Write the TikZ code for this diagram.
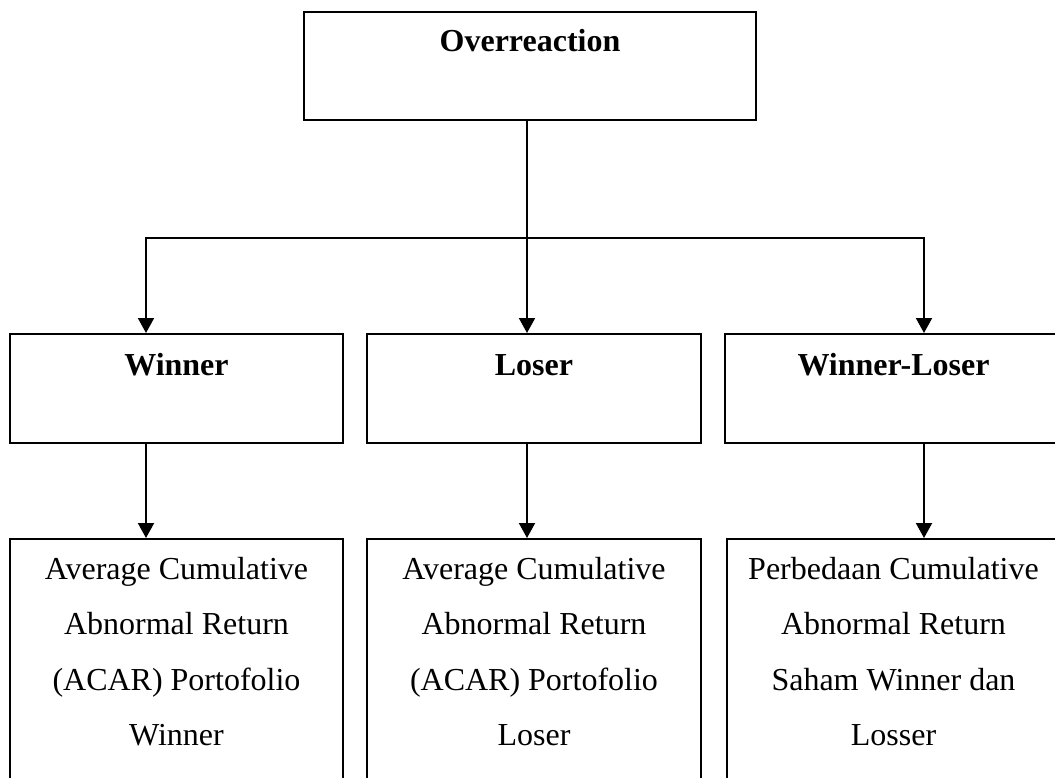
\documentclass[tikz,border=0pt]{standalone}
\usepackage{fontspec}
\setmainfont{Liberation Serif}
\usetikzlibrary{arrows.meta,positioning}

\begin{document}
\begin{tikzpicture}[x=1pt, y=-1pt, line width=2pt,
    box/.style={draw, rectangle, inner sep=0pt},
    title/.style={font=\fontsize{32}{38}\selectfont\bfseries, inner sep=0pt},
    body/.style={font=\fontsize{32}{55.5}\selectfont, align=center, inner sep=0pt},
    arr/.style={-{Triangle[width=16pt,length=15pt]}}]
      \useasboundingbox (0,0) rectangle (1055,778);
      \clip (0,0) rectangle (1055,778);

      % boxes
      \node[box, minimum width=452pt, minimum height=108pt] (over) at (530,66) {};
      \node[box, minimum width=333pt, minimum height=109pt] (win) at (176.5,388.5) {};
      \node[box, minimum width=334pt, minimum height=109pt] (los) at (534,388.5) {};
      \node[box, minimum width=337pt, minimum height=109pt] (wl) at (893.5,388.5) {};
      \node[box, minimum width=333pt, minimum height=281pt] (acwin) at (176.5,679.5) {};
      \node[box, minimum width=334pt, minimum height=281pt] (aclos) at (534,679.5) {};
      \node[box, minimum width=333pt, minimum height=281pt] (acwl) at (893.5,679.5) {};

      % texts
      \node[title, anchor=base] (overtxt) at ([yshift=-41pt]over.north) {Overreaction};
      \node[title, anchor=base] (wintxt) at ([yshift=-42pt]win.north) {Winner};
      \node[title, anchor=base] (lostxt) at ([yshift=-42pt]los.north) {Loser};
      \node[title, anchor=base] (wltxt) at ([yshift=-42pt]wl.north) {Winner-Loser};
      \node[body, anchor=north] (acwintxt) at ([yshift=-18pt]acwin.north) {Average Cumulative\\Abnormal Return\\(ACAR) Portofolio\\Winner};
      \node[body, anchor=north] (aclostxt) at ([yshift=-18pt]aclos.north) {Average Cumulative\\Abnormal Return\\(ACAR) Portofolio\\Loser};
      \node[body, anchor=north] (acwltxt) at ([yshift=-18pt]acwl.north) {Perbedaan Cumulative\\Abnormal Return\\Saham Winner dan\\Losser};

      % connectors
      \coordinate (jw) at (146,238);
      \coordinate (jl) at (527,238);
      \coordinate (jwl) at (924,238);
      \draw (jl |- over.south) -- (jl);
      \draw[line cap=rect] (jw) -- (jwl);
      \foreach \j/\b in {jw/win, jl/los, jwl/wl}
        \draw[arr] (\j) -- (\j |- \b.north);
      \foreach \j/\a/\b in {jw/win/acwin, jl/los/aclos, jwl/wl/acwl}
        \draw[arr] (\j |- \a.south) -- (\j |- \b.north);
\end{tikzpicture}
\end{document}
